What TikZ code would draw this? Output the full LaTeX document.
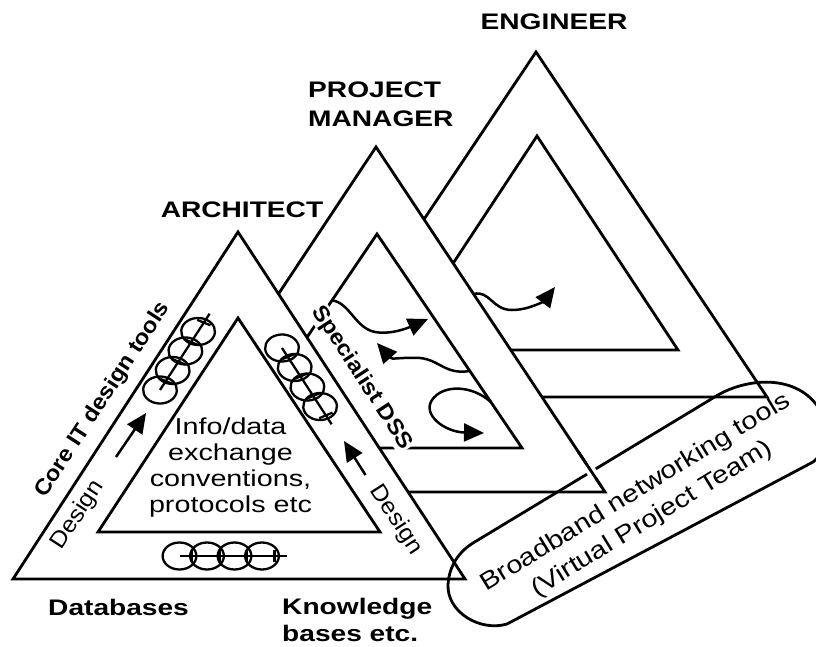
\documentclass[tikz,border=0pt]{standalone}
\usepackage{fontspec}
\setmainfont{Liberation Sans}
\newfontfamily\flatfont{Liberation Sans}[FakeStretch=1.25]
\newfontfamily\sidefont{Liberation Sans}[FakeStretch=1.08]
\newfontfamily\bandfont{Liberation Sans}[FakeStretch=1.18]
\usetikzlibrary{arrows.meta,calc}

\tikzset{
  frame/.style={line width=2.8pt, line join=miter},
  card/.style={frame, fill=white},
  flow/.style={line width=2.5pt, line cap=round, -{Triangle[length=20pt,width=18pt]}},
  dirarrow/.style={line width=2.5pt, -{Triangle[length=20pt,width=18pt]}},
  linkring/.style={line width=2.3pt},
  rolelabel/.style={font=\flatfont\bfseries\fontsize{22.5}{27}\selectfont, inner sep=0pt},
  centretext/.style={font=\flatfont\fontsize{23}{26}\selectfont, align=center, inner sep=0pt},
  sidebold/.style={font=\sidefont\bfseries\fontsize{22}{26}\selectfont, inner sep=1pt},
  sideplain/.style={font=\sidefont\fontsize{23}{26}\selectfont, inner sep=1pt},
  netlabel/.style={font=\bandfont\fontsize{24.5}{31}\selectfont, align=center, inner sep=0pt},
}

% a chain of four linked rings: first ring centre (x,y), direction angle
\newcommand\linkchain[3]{%
  \begin{scope}[shift={(#1,#2)}, xscale=1.25, rotate=#3]
    \foreach \k in {0,1,2,3} {
      \draw[linkring] (\k*22,0) circle [radius=13.5];
      \draw[linkring] (\k*22+10,-6) -- (\k*22+10,6);
    }
    \draw[linkring] (0,0) -- (86,0);
  \end{scope}}

\begin{document}
\begin{tikzpicture}[x=1pt, y=-1pt]
\useasboundingbox (0,0) rectangle (816,647);
\fill[white] (0,0) rectangle (816,647);
\clip (0,0) rectangle (816,647);

% corner points of the three frames
\coordinate (eT) at (536,52);   \coordinate (eL) at (305,397);  \coordinate (eR) at (767,397);
\coordinate (eiT) at (537,136); \coordinate (eiL) at (396,350); \coordinate (eiR) at (678,350);
\coordinate (pT) at (376,147);  \coordinate (pL) at (147,492);  \coordinate (pR) at (605,492);
\coordinate (piT) at (377,234); \coordinate (piL) at (232,448); \coordinate (piR) at (522,448);
\coordinate (aT) at (238,232);  \coordinate (aL) at (13,579);   \coordinate (aR) at (465,579);
\coordinate (aiT) at (238,318); \coordinate (aiL) at (98,532);  \coordinate (aiR) at (380,532);

% engineer frame (back)
\draw[frame] (eL) -- (eT) -- (eR) -- cycle;
\draw[frame] (eiL) -- (eiT) -- (eiR) -- cycle;

% project manager frame (middle)
\draw[card] (pL) -- (pT) -- (pR) -- cycle;
\draw[frame] (piL) -- (piT) -- (piR) -- cycle;

\node[sidebold, fill=white, rotate=-57] (dss) at (362,378) {Specialist DSS};

% architect frame (front)
\draw[card] (aL) -- (aT) -- (aR) -- cycle;
\draw[frame] (aiL) -- (aiT) -- (aiR) -- cycle;

% exchanges between the frames
\coordinate (w1s) at ($(piT)!0.31!(piL)$);
\coordinate (w1e) at (428,319);
\draw[flow] (w1s) .. controls (350,303) and (355,328) .. (375,332)
            .. controls (392,335) and (410,327) .. (w1e);

\coordinate (w2s) at ($(piT)!0.64!(piR)$);
\coordinate (w2e) at (377,343);
\draw[flow] (w2s) .. controls (445,375) and (440,360) .. (420,358)
            .. controls (400,357) and (392,360) .. (w2e);

\coordinate (w3s) at ($(piT)!0.785!(piR)$);
\coordinate (w3e) at (484,433);
\draw[flow] (w3s) .. controls (472,385) and (443,384) .. (432,400)
            .. controls (422,415) and (445,432) .. (w3e);

\coordinate (w4s) at ($(pT)!0.426!(pR)$);
\coordinate (w4e) at (555,287);
\draw[flow] (w4s) .. controls (490,290) and (492,310) .. (512,310)
            .. controls (530,310) and (545,300) .. (w4e);

% linked-ring symbols
\linkchain{179.5}{556}{0}
\linkchain{160}{390}{62.5}
\linkchain{282}{348}{-62.5}

% labels along the architect frame
\node[sidebold, rotate=57] (core) at (103,400) {Core IT design tools};
\node[sideplain, rotate=57] (dleft) at (78,515) {Design};
\node[sideplain, rotate=-57] (dright) at (396,520) {Design};
\coordinate (dlA) at (116,457); \coordinate (dlB) at (146,413);
\draw[dirarrow] (dlA) -- (dlB);
\coordinate (drA) at (365.5,475); \coordinate (drB) at (344,441);
\draw[dirarrow] (drA) -- (drB);

\node[centretext] (info) at (230.5,468) {Info/data\\exchange\\conventions,\\protocols etc};

% networking band
\draw[frame, line join=round] (473,543) -- (713,398)
   .. controls (745,377) and (798,373) .. (820,410)
   .. controls (830,428) and (828,450) .. (813,462) -- (507,624)
   .. controls (480,632) and (447,612) .. (448,585)
   .. controls (449,565) and (460,551) .. (473,543) -- cycle;
\draw[white, line width=10pt] ($(pT)!0.92!(pR)$) -- ($(pT)!0.96!(pR)$);
\draw[frame] ($(pT)!0.88!(pR)$) -- ($(pT)!0.985!(pR)$);
\node[netlabel, rotate=31.5] (net) at (644,506) {Broadband networking tools\\(Virtual Project Team)};

% role and base labels
\node[rolelabel, anchor=base] (eng) at (554,30) {ENGINEER};
\node[rolelabel, anchor=base west] (pmA) at (308,98) {PROJECT};
\node[rolelabel, anchor=base west] (pmB) at (308,127) {MANAGER};
\node[rolelabel, anchor=base] (arch) at (242,217) {ARCHITECT};
\node[rolelabel, anchor=base west] (db) at (48,615) {Databases};
\node[rolelabel, anchor=base west] (kbA) at (282,614) {Knowledge};
\node[rolelabel, anchor=base west] (kbB) at (282,641) {bases etc.};
\end{tikzpicture}
\end{document}
